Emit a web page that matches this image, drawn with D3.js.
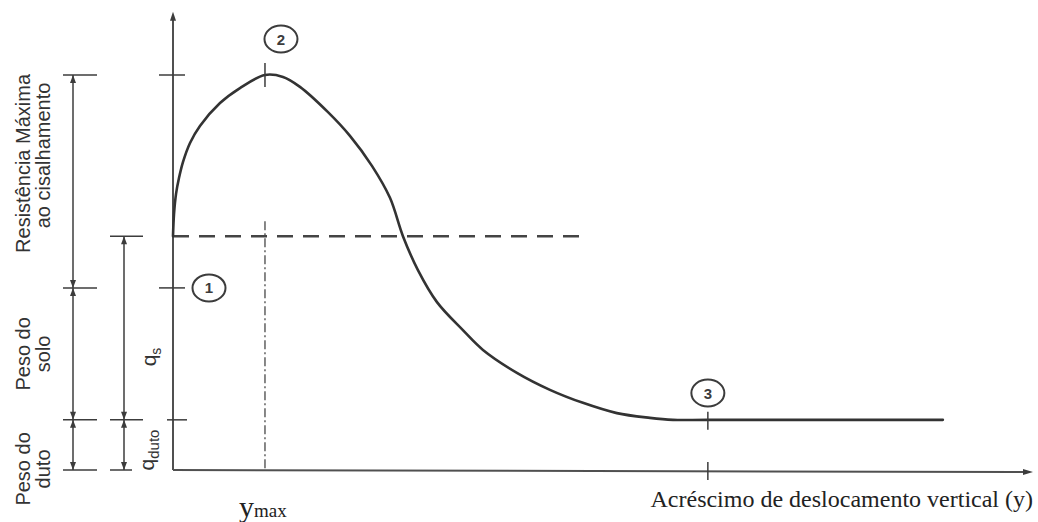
<!DOCTYPE html>
<html><head><meta charset="utf-8">
<script src="https://cdn.jsdelivr.net/npm/d3@7"></script>
<style>
html,body{margin:0;padding:0;background:#fff;}
svg{display:block;}
</style></head>
<body>
<svg id="chart" width="1038" height="522"></svg>
<script>
// ---- data (normalized: x in units of y_max, y in units of max resistance) ----
const curveX = [0, 0.011, 0.033, 0.065, 0.109, 0.185, 0.293, 0.511, 0.728, 1.0, 1.196, 1.380, 1.685, 1.924, 2.163, 2.359, 2.500, 2.663, 2.870, 3.152, 3.370, 3.739, 4.098, 4.457, 4.826, 5.185, 5.435, 5.815, 8.370];
const curveY = [0.592, 0.648, 0.699, 0.739, 0.780, 0.828, 0.871, 0.929, 0.967, 1.0, 0.995, 0.970, 0.906, 0.846, 0.770, 0.689, 0.592, 0.506, 0.425, 0.354, 0.304, 0.246, 0.203, 0.170, 0.144, 0.132, 0.127, 0.127, 0.127];
const levelNames = ["qduto", "p1", "qs", "max"];
const levelValues = [0.127, 0.461, 0.592, 1.0];
const xYmax = 1.0;
const xPoint3 = 5.815;
const xDashEnd = 4.5;
const xAxisEnd = 9.35;
const yAxisEnd = 1.16;
const pointLabels = ["1", "2", "3"];
const dimLabelsA = [["Resistência Máxima", "ao cisalhamento"], ["Peso do", "solo"], ["Peso do", "duto"]];
const xLabel = "Acréscimo de deslocamento vertical (y)";

const L = {}; levelNames.forEach((n,i)=>L[n]=levelValues[i]);

const svg = d3.select("#chart");
const x = d3.scaleLinear().domain([0, xAxisEnd]).range([173, 1033]);
const y = d3.scaleLinear().domain([0, 1]).range([470, 75]);
const ink = "#3c3c3c";

function line(x1,y1,x2,y2,w,col,dash){
  const l = svg.append("line").attr("x1",x1).attr("y1",y1).attr("x2",x2).attr("y2",y2)
    .attr("stroke",col||ink).attr("stroke-width",w||1.5);
  if(dash) l.attr("stroke-dasharray",dash);
  return l;
}
function arrow(xc, yTip, dir, len, half){ // dir: -1 up, +1 down, 'r' right
  len = len||8; half = half||3;
  let pts;
  if(dir==='r') pts = [[xc,yTip],[xc-len,yTip-half],[xc-len,yTip+half]];
  else pts = [[xc,yTip],[xc-half,yTip-dir*len],[xc+half,yTip-dir*len]];
  svg.append("path").attr("d","M"+pts.map(p=>p.join(",")).join("L")+"Z").attr("fill",ink);
}

// axes
line(x(0), y(0), x(0), y(yAxisEnd)+4, 2, "#505050");
arrow(x(0), y(yAxisEnd), -1, 9, 3);
line(x(0), y(0), x(xAxisEnd)-4, y(0)+2, 2, "#505050");
arrow(x(xAxisEnd), y(0)+2, 'r', 10, 3);

// y-axis ticks
line(159, y(L.max), 185, y(L.max), 1.5);
line(159, y(L.p1), 185, y(L.p1), 1.5);
line(167, y(L.qduto), 187, y(L.qduto), 1.5);

// dashed qs line
line(x(0), y(L.qs), x(xDashEnd), y(L.qs), 2.5, "#444", "16,10");
// dash-dot vertical at ymax
line(x(xYmax), y(0.63), x(xYmax), y(0), 1.4, "#555", "9,3,2,3");

// curve
const lineGen = d3.line().x((d,i)=>x(curveX[i])).y((d,i)=>y(curveY[i])).curve(d3.curveCatmullRom.alpha(0.5));
svg.append("path").attr("d", lineGen(curveX)).attr("fill","none").attr("stroke","#333").attr("stroke-width",2.6).attr("stroke-linecap","round");

// ticks on curve / axis
line(x(xYmax), y(L.max)-12, x(xYmax), y(L.max)+12, 1.5);
line(x(xPoint3), y(L.qduto)-8, x(xPoint3), y(L.qduto)+10, 1.5);
line(x(xPoint3), y(0)-8, x(xPoint3), y(0)+10, 1.5);

// numbered markers
const sans = "Liberation Sans, Arial, sans-serif";
function marker(cx, cy, t){
  svg.append("ellipse").attr("cx",cx).attr("cy",cy).attr("rx",16.5).attr("ry",13.5)
    .attr("fill","none").attr("stroke",ink).attr("stroke-width",2);
  svg.append("text").attr("x",cx).attr("y",cy+5.5).attr("text-anchor","middle")
    .attr("font-family",sans).attr("font-size",15).attr("font-weight","bold")
    .attr("fill",ink).text(t);
}
marker(209, y(L.p1), pointLabels[0]);
marker(x(xYmax)+16, 39, pointLabels[1]);
marker(x(xPoint3), 393, pointLabels[2]);

// dimension line A
const xA = 73;
const levA = [L.max, L.p1, L.qduto, 0];
line(xA, y(L.max), xA, y(0), 1.5);
levA.forEach(v=>line(63, y(v), 97, y(v), 1.5));
arrow(xA, y(L.max), -1); arrow(xA, y(L.p1), 1); arrow(xA, y(L.p1), -1);
arrow(xA, y(L.qduto), 1); arrow(xA, y(L.qduto), -1); arrow(xA, y(0), 1);
// dimension line B
const xB = 124;
line(xB, y(L.qs), xB, y(0), 1.5);
line(110, y(L.qs), 143, y(L.qs), 1.5);
line(110, y(L.qduto), 143, y(L.qduto), 1.5);
line(110, y(0), 132, y(0), 1.5);
arrow(xB, y(L.qs), -1); arrow(xB, y(L.qduto), 1); arrow(xB, y(L.qduto), -1); arrow(xB, y(0), 1);

// rotated labels
function vtext(cx, cy, t, size){
  return svg.append("text").attr("transform",`translate(${cx},${cy}) rotate(-90)`)
    .attr("text-anchor","middle").attr("font-family",sans).attr("font-size",size||20).attr("fill","#333").text(t);
}
const midA = [(y(L.max)+y(L.p1))/2, (y(L.p1)+y(L.qduto))/2, (y(L.qduto)+y(0))/2 + 24];
dimLabelsA.forEach((pair,i)=>{
  vtext(30, midA[i] - (i===0?18:0), pair[0]);
  vtext(50, midA[i] - (i===0?26:0), pair[1]);
});
// q_s and q_duto
const qs = svg.append("text").attr("transform",`translate(156,357) rotate(-90)`)
  .attr("text-anchor","middle").attr("font-family",sans).attr("font-size",21).attr("fill","#333");
qs.append("tspan").text("q");
qs.append("tspan").attr("font-size",14).attr("dy",5).text("s");
const qd = svg.append("text").attr("transform",`translate(154,450) rotate(-90)`)
  .attr("text-anchor","middle").attr("font-family",sans).attr("font-size",21).attr("fill","#333");
qd.append("tspan").text("q");
qd.append("tspan").attr("font-size",15).attr("dy",5).text("duto");

// bottom labels (serif)
const serif = "Liberation Serif, Times New Roman, serif";
const ym = svg.append("text").attr("x", x(xYmax)-26).attr("y",517)
  .attr("font-family",serif).attr("fill","#222");
ym.append("tspan").attr("font-size",30).text("y");
ym.append("tspan").attr("font-size",19).text("max");
svg.append("text").attr("x",1033).attr("y",507).attr("text-anchor","end")
  .attr("font-family",serif).attr("font-size",24).attr("fill","#222")
  .text(xLabel);
</script>
</body></html>
